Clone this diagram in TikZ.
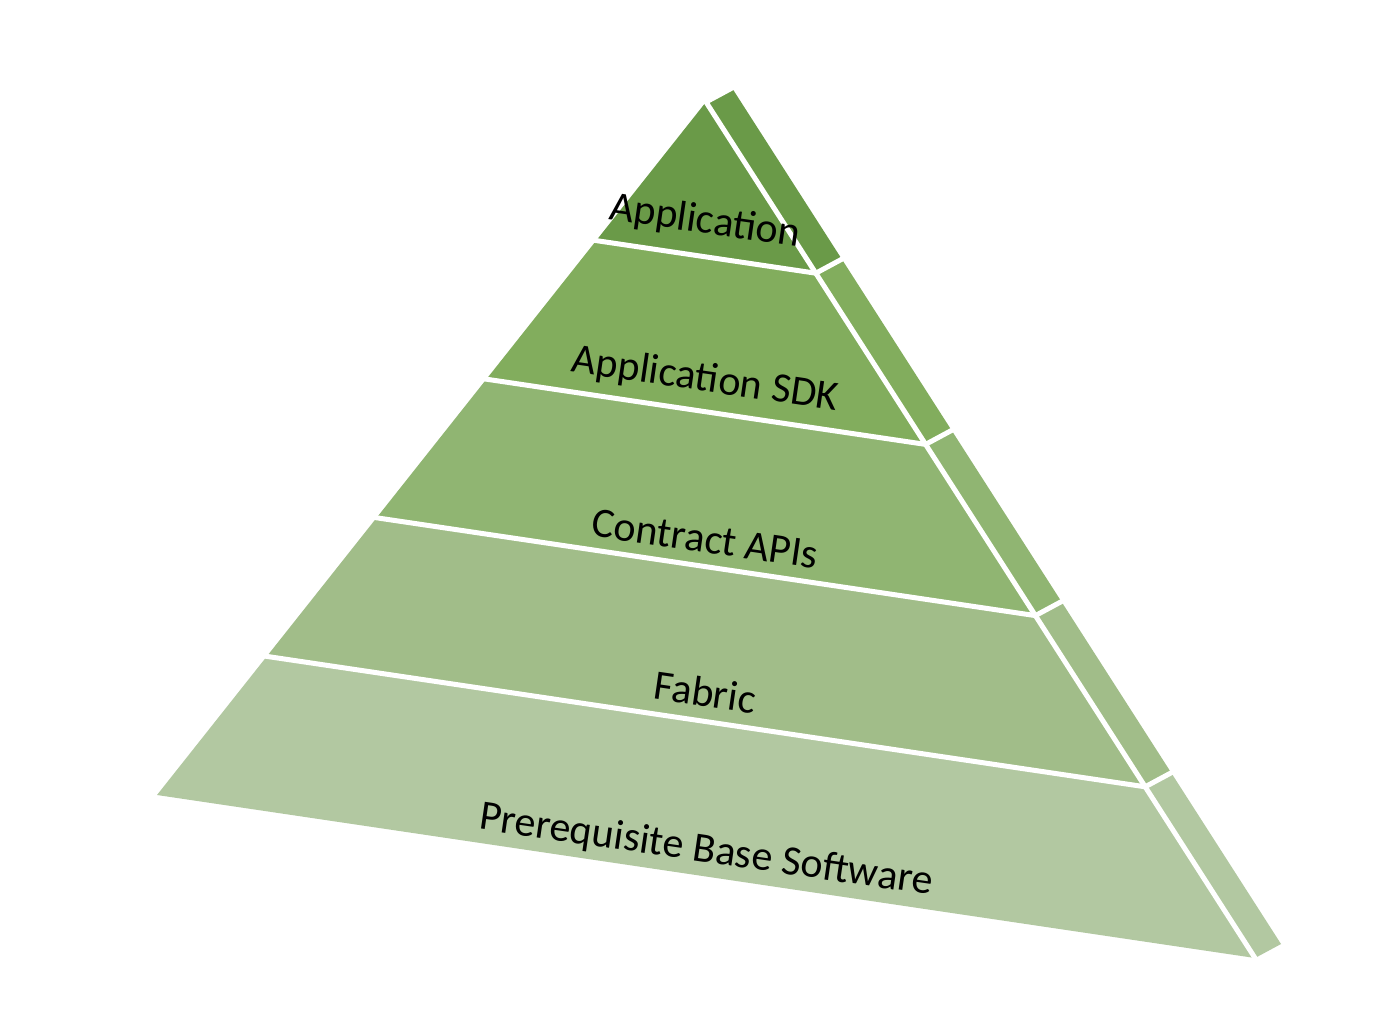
\documentclass[tikz,border=0pt]{standalone}
\usepackage{fontspec}
\setmainfont{Carlito}
\usetikzlibrary{calc}
\definecolor{lay1}{HTML}{6A9A48}
\definecolor{lay2}{HTML}{82AD5D}
\definecolor{lay3}{HTML}{90B572}
\definecolor{lay4}{HTML}{A1BD89}
\definecolor{lay5}{HTML}{B2C8A1}
\tikzset{
  gap/.style={white, line width=5pt, line cap=butt, line join=miter},
  lbl/.style={font=\fontsize{42}{50}\selectfont, text=black, rotate=-8.3, inner sep=0pt}
}
\begin{document}
\begin{tikzpicture}[x=1pt,y=-1pt]
\useasboundingbox[fill=white] (0,0) rectangle (1390,1034);
\coordinate (A) at (706,102);
\coordinate (BL) at (157,795);
\coordinate (BR) at (1255,958);
\coordinate (v) at (26,-14);
\foreach \k in {0,...,5}{
  \coordinate (L\k) at ($(A)!{\k/5}!(BL)$);
  \coordinate (R\k) at ($(A)!{\k/5}!(BR)$);
  \coordinate (S\k) at ($(R\k)+(v)$);
}
\foreach \k/\c in {1/lay1,2/lay2,3/lay3,4/lay4,5/lay5}{
  \pgfmathtruncatemacro{\p}{\k-1}
  \fill[\c] (L\p) -- (R\p) -- (R\k) -- (L\k) -- cycle;
  \fill[\c] (R\p) -- (S\p) -- (S\k) -- (R\k) -- cycle;
}
% white gaps
\draw[gap] ($(A)!-0.02!(BR)$) -- ($(A)!1.02!(BR)$);
\foreach \k in {1,...,4}{
  \draw[gap] ($(L\k)!-0.03!(R\k)$) -- (R\k) -- ($(R\k)+1.3*(v)$);
}
\draw[gap] (A) -- ($(A)+1.3*(v)$);
\node[lbl] (t1) at (705,222) {Application};
\node[lbl] (t2) at (705,380) {Application SDK};
\node[lbl] (t3) at (705,539) {Contract APIs};
\node[lbl] (t4) at (705,692) {Fabric};
\node[lbl] (t5) at (706,851) {Prerequisite Base Software};
\end{tikzpicture}
\end{document}
